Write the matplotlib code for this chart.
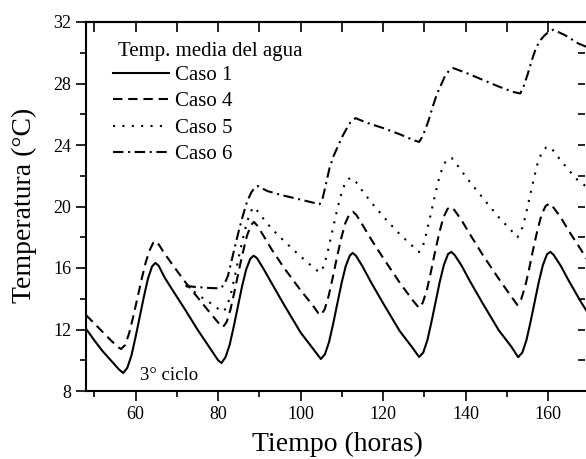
import matplotlib
matplotlib.use("Agg")
import matplotlib.pyplot as plt
from matplotlib.ticker import MultipleLocator

plt.rcParams['font.family'] = ['Liberation Serif', 'DejaVu Serif']

# Caso 1 - linea continua
t_caso1 = [48, 50, 52, 54, 56, 57, 58, 59, 60, 61, 62, 63, 64, 64.8, 65.6, 67, 69, 72, 75, 78, 80, 80.8,
           81.8, 82.8, 83.8, 84.8, 85.8, 86.8, 87.8, 88.6, 89.4, 91, 93, 96, 100, 103, 104.9,
           105.9, 106.9, 107.9, 108.9, 109.9, 110.9, 111.9, 112.6, 113.4, 115, 117, 120, 124, 127, 128.7,
           129.7, 130.7, 131.7, 132.7, 133.7, 134.7, 135.7, 136.5, 137.3, 139, 141, 144, 148, 151, 152.7,
           153.7, 154.7, 155.7, 156.7, 157.7, 158.7, 159.7, 160.5, 161.3, 163, 165, 168, 170]
caso1 = [12.05, 11.3, 10.6, 10.0, 9.4, 9.17, 9.5, 10.3, 11.5, 12.8, 14.1, 15.3, 16.1, 16.33, 16.15, 15.4, 14.55, 13.3, 12.0, 10.8, 10.0, 9.82,
         10.2, 11.0, 12.2, 13.5, 14.8, 15.9, 16.6, 16.8, 16.65, 15.95, 15.0, 13.6, 11.8, 10.75, 10.08,
         10.4, 11.2, 12.4, 13.7, 15.0, 16.1, 16.8, 16.98, 16.8, 16.1, 15.1, 13.7, 11.9, 10.85, 10.21,
         10.5, 11.3, 12.5, 13.8, 15.1, 16.2, 16.9, 17.05, 16.85, 16.15, 15.15, 13.75, 11.95, 10.9, 10.2,
         10.5, 11.3, 12.5, 13.8, 15.1, 16.2, 16.9, 17.05, 16.85, 16.15, 15.15, 13.75, 12.9]

# Caso 4 - discontinua
t_caso4 = [48, 50, 52, 54, 55.8, 56.5, 57.5, 58.5, 59.5, 60.5, 61.5, 62.5, 63.5, 64.3, 64.9, 65.7, 67, 69, 72, 75, 78, 80.5, 81.2,
           82.1, 83, 84, 85, 86, 87, 88, 88.7, 89.5, 91, 93, 96, 100, 103, 104.3, 104.9,
           105.8, 106.8, 107.8, 108.8, 109.8, 110.8, 111.8, 112.7, 113.5, 115, 117, 120, 124, 127, 128.7,
           129.6, 130.6, 131.6, 132.6, 133.6, 134.6, 135.6, 136.5, 137.3, 139, 141, 144, 148, 151, 152.5,
           153.4, 154.4, 155.4, 156.4, 157.4, 158.4, 159.4, 160.4, 161.2, 163, 165, 168, 170]
caso4 = [12.94, 12.4, 11.85, 11.3, 10.85, 10.73, 11.0, 11.8, 12.9, 14.1, 15.3, 16.4, 17.2, 17.65, 17.75, 17.5, 16.95, 16.2, 15.1, 14.1, 13.1, 12.3, 12.16,
         12.5, 13.3, 14.5, 15.8, 17.0, 18.1, 18.8, 19.0, 18.75, 18.1, 17.2, 16.0, 14.55, 13.55, 13.05, 12.94,
         13.3, 14.2, 15.4, 16.7, 17.9, 18.9, 19.5, 19.65, 19.45, 18.8, 17.9, 16.65, 15.05, 13.95, 13.4,
         13.75, 14.6, 15.8, 17.1, 18.3, 19.3, 19.85, 19.97, 19.75, 19.1, 18.2, 16.9, 15.3, 14.15, 13.6,
         13.95, 14.8, 16.0, 17.3, 18.5, 19.5, 20.05, 20.2, 19.95, 19.3, 18.4, 17.15, 16.3]

# Caso 5 - punteada
t_caso5 = [72.3, 74, 76, 78, 80, 81.1, 82, 83, 84, 85, 86, 87, 88, 88.6, 89.4, 91, 93, 96, 100, 103, 104.6,
           105.6, 106.6, 107.6, 108.6, 109.6, 110.6, 111.6, 112.6, 113.4, 115, 117, 120, 124, 127, 128.7,
           129.6, 130.6, 131.6, 132.6, 133.6, 134.6, 135.6, 136.6, 137.4, 139, 141, 144, 148, 151, 152.5,
           153.4, 154.4, 155.4, 156.4, 157.4, 158.4, 159.5, 160.5, 161.3, 163, 165, 167, 169.3, 170]
caso5 = [14.83, 14.5, 14.1, 13.75, 13.35, 13.15, 13.4, 14.2, 15.4, 16.7, 17.9, 19.0, 19.7, 19.97, 19.75, 19.2, 18.55, 17.75, 16.75, 16.05, 15.7,
         16.1, 17.1, 18.3, 19.5, 20.6, 21.4, 21.8, 21.85, 21.6, 21.0, 20.3, 19.35, 18.2, 17.45, 17.04,
         17.4, 18.4, 19.6, 20.8, 21.9, 22.7, 23.1, 23.15, 22.9, 22.3, 21.6, 20.6, 19.3, 18.45, 18.0,
         18.35, 19.3, 20.5, 21.7, 22.8, 23.5, 23.85, 23.87, 23.6, 23.0, 22.35, 21.75, 21.27, 21.0]

# Caso 6 - raya-punto
t_caso6 = [72.1, 74, 76, 78, 80, 80.8, 81.6, 82.4, 83.2, 84, 85, 86, 87, 88, 88.8, 89.6, 92, 96, 100, 103, 104.6,
           105.3, 106, 107, 108, 109, 110, 111, 112, 113.3, 116, 120, 124, 127.5, 128.7,
           129.4, 130.2, 131, 132, 133, 134, 135, 136, 137, 140, 144, 148, 151.5, 153.2,
           154, 155, 156, 157, 158, 159, 160, 161.2, 164, 167.3, 170]
caso6 = [14.85, 14.78, 14.74, 14.7, 14.68, 14.72, 15.0, 15.5, 16.4, 17.3, 18.4, 19.4, 20.3, 20.9, 21.2, 21.33, 21.0, 20.7, 20.45, 20.25, 20.15,
         20.5, 21.3, 22.5, 23.3, 23.9, 24.5, 25.0, 25.45, 25.75, 25.45, 25.1, 24.7, 24.3, 24.2,
         24.5, 25.0, 25.6, 26.5, 27.3, 27.9, 28.5, 28.85, 29.0, 28.7, 28.25, 27.8, 27.45, 27.35,
         27.8, 28.6, 29.5, 30.3, 30.8, 31.1, 31.35, 31.5, 31.15, 30.6, 30.3]

labels = ['Caso 1', 'Caso 4', 'Caso 5', 'Caso 6']

fig = plt.figure(figsize=(5.86, 4.59), dpi=100)
ax = fig.add_axes([86 / 586, 1 - 391 / 459, 1.004 - 86 / 586, (391 - 22) / 459])

lw = 1.5
ax.plot(t_caso1, caso1, color='black', lw=lw, ls='-', label=labels[0])
ax.plot(t_caso4, caso4, color='black', lw=lw, ls=(0, (4.5, 2.8)), label=labels[1])
ax.plot(t_caso5, caso5, color='black', lw=lw, ls=(0, (1, 3.5)), label=labels[2])
ax.plot(t_caso6, caso6, color='black', lw=lw, ls=(0, (5, 2.2, 1, 2.2)), label=labels[3])

ax.set_xlim(48, 169.7)
ax.set_ylim(8, 32)
ax.xaxis.set_major_locator(MultipleLocator(20))
ax.xaxis.set_minor_locator(MultipleLocator(10))
ax.yaxis.set_major_locator(MultipleLocator(4))
ax.yaxis.set_minor_locator(MultipleLocator(2))
ax.tick_params(which='major', direction='out', length=7, width=1.2, labelsize=13)
ax.tick_params(which='minor', direction='out', length=4, width=1.2)
for s in ax.spines.values():
    s.set_linewidth(1.5)
ax.spines['right'].set_visible(False)

# ticks hacia dentro arriba y a la derecha
top = ax.secondary_xaxis('top')
top.xaxis.set_major_locator(MultipleLocator(20))
top.xaxis.set_minor_locator(MultipleLocator(10))
top.tick_params(which='major', direction='in', length=7, width=1.2, labeltop=False)
top.tick_params(which='minor', direction='in', length=7, width=1.2)
top.spines['top'].set_linewidth(1.5)
right = ax.secondary_yaxis(1.0 - 0.006)
right.yaxis.set_major_locator(MultipleLocator(4))
right.yaxis.set_minor_locator(MultipleLocator(2))
right.tick_params(which='both', direction='in', length=5, width=1.2, labelright=False)
right.spines['right'].set_visible(False)

leg = ax.legend(title='Temp. media del agua', loc='upper left', bbox_to_anchor=(0.038, 0.968),
                frameon=False, fontsize=15, title_fontsize=15, handlelength=2.65,
                handletextpad=0.3, labelspacing=0.33, alignment='left', borderaxespad=0)
leg._legend_box.sep = 3
leg.get_title().set_position((5, 0))

ax.text(61, 9.0, '3° ciclo', fontsize=13.5, va='center', ha='left')

fig.text(337 / 586, 1 - 444 / 459, 'Tiempo (horas)', fontsize=20, ha='center', va='center')
fig.text(24 / 586, 1 - 205 / 459, 'Temperatura (°C)', fontsize=20, ha='center', va='center', rotation=90)

fig.savefig('out.png', dpi=100)
